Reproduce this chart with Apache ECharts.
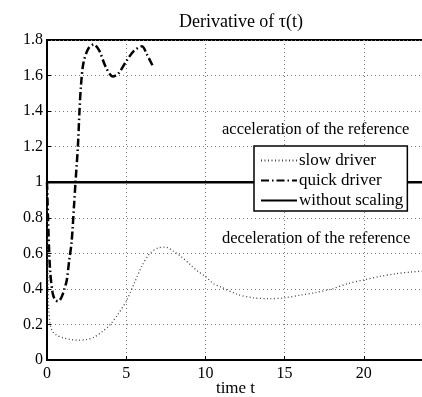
<!DOCTYPE html>
<html><head><meta charset="utf-8">
<script src="https://cdn.jsdelivr.net/npm/echarts@6/dist/echarts.min.js"></script>
<style>html,body{margin:0;padding:0;background:#fff}#c{width:422px;height:397px}</style>
</head><body><div id="c"></div>
<script>
const titleText = 'Derivative of τ(t)';
const xLabel = 'time t';
const xTicks = [0, 5, 10, 15, 20];
const yTicks = [0, 0.2, 0.4, 0.6, 0.8, 1, 1.2, 1.4, 1.6, 1.8];
const seriesNames = ['slow driver', 'quick driver', 'without scaling'];
const annotations = ['acceleration of the reference', 'deceleration of the reference'];

const slowT = [0,0.05,0.1,0.2,0.35,0.6,1,1.5,2,2.5,3,3.5,4,4.5,5,5.5,6,6.5,7,7.5,8,8.5,9,9.5,10,10.5,11,12,13,14,15,16,17,18,19,20,21,22,23,23.8];
const slowV = [1.0,0.6,0.3,0.2,0.16,0.14,0.125,0.115,0.112,0.115,0.13,0.16,0.2,0.26,0.33,0.43,0.53,0.6,0.63,0.635,0.61,0.58,0.54,0.5,0.47,0.43,0.41,0.37,0.35,0.345,0.35,0.365,0.38,0.4,0.43,0.45,0.47,0.485,0.495,0.5];

const quickT = [0,0.1,0.2,0.35,0.5,0.7,0.9,1.1,1.25,1.4,1.55,1.7,1.8,1.95,2.05,2.15,2.3,2.6,2.95,3.3,3.7,4.15,4.5,5.0,5.5,6.0,6.3,6.7];
const quickV = [1.0,0.7,0.5,0.38,0.34,0.33,0.35,0.4,0.45,0.56,0.66,0.86,1.0,1.2,1.4,1.55,1.67,1.75,1.775,1.74,1.65,1.595,1.61,1.68,1.74,1.765,1.72,1.65];

const refT = [0, 23.8];
const refV = [1, 1];

const zip = (a, b) => a.map((v, i) => [v, b[i]]);
const font = 'Liberation Serif';

const chart = echarts.init(document.getElementById('c'));
chart.setOption({
  animation: false,
  backgroundColor: '#fff',
  textStyle: { fontFamily: font },
  title: { text: titleText, left: 236, top: 8, textAlign: 'center',
    textStyle: { fontFamily: font, fontWeight: 'normal', fontSize: 18, color: '#000' } },
  grid: { left: 47, top: 40, right: -2, bottom: 37, show: true, borderColor: '#000', borderWidth: 2,
    containLabel: false, outerBoundsMode: 'none' },
  xAxis: {
    type: 'value', min: 0, max: 23.8, interval: 5,
    name: xLabel, nameLocation: 'middle', nameGap: 20, nameMoveOverlap: false,
    nameTextStyle: { fontFamily: font, fontSize: 17, color: '#000', verticalAlign: 'top' },
    axisLine: { lineStyle: { color: '#000', width: 2 } },
    axisTick: { inside: true, length: 4, lineStyle: { color: '#000' } },
    axisLabel: { fontFamily: font, fontSize: 16, color: '#000', margin: 6, showMaxLabel: false },
    splitLine: { show: true, lineStyle: { color: '#777', type: [1, 3], width: 1 } }
  },
  yAxis: {
    type: 'value', min: 0, max: 1.8, interval: 0.2,
    axisLine: { show: true, lineStyle: { color: '#000', width: 2 } },
    axisTick: { show: true, inside: true, length: 4, lineStyle: { color: '#000' } },
    axisLabel: { fontFamily: font, fontSize: 16, color: '#000', margin: 4,
      formatter: v => (Math.abs(v - 1) < 1e-9 ? '1' : (v === 0 ? '0' : String(+v.toFixed(1)))) },
    splitLine: { show: true, lineStyle: { color: '#777', type: [1, 3], width: 1 } }
  },
  legend: {
    orient: 'vertical', left: 254, top: 146, padding: [6, 4, 2, 6], itemGap: 3,
    itemWidth: 36, itemHeight: 17,
    backgroundColor: '#fff', borderColor: '#000', borderWidth: 1.5, borderRadius: 0,
    itemStyle: { opacity: 0 },
    textStyle: { fontFamily: font, fontSize: 17, color: '#000', padding: [0, 0, 0, -3] },
    data: seriesNames
  },
  graphic: [
    { type: 'text', left: 222, top: 121, style: { text: annotations[0], font: '16.5px "Liberation Serif"', fill: '#000' } },
    { type: 'text', left: 222, top: 230, style: { text: annotations[1], font: '16.5px "Liberation Serif"', fill: '#000' } }
  ],
  series: [
    { name: seriesNames[0], type: 'line', smooth: 0.3, showSymbol: false, symbol: 'none', data: zip(slowT, slowV),
      lineStyle: { color: '#444', width: 1.3, type: [1, 2.5] }, itemStyle: { color: '#444' } },
    { name: seriesNames[1], type: 'line', smooth: 0.3, showSymbol: false, symbol: 'none', data: zip(quickT, quickV),
      lineStyle: { color: '#000', width: 2.5, type: [8, 3, 1.5, 3] }, itemStyle: { color: '#000' } },
    { name: seriesNames[2], type: 'line', showSymbol: false, symbol: 'none', data: zip(refT, refV),
      lineStyle: { color: '#000', width: 2.5 }, itemStyle: { color: '#000' } }
  ]
});
</script></body></html>
